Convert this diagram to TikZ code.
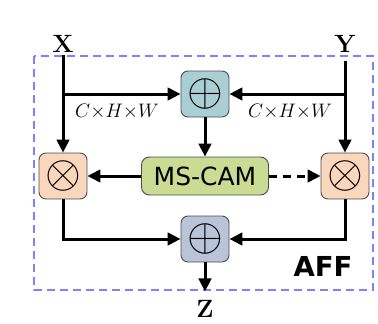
\documentclass[tikz,border=0pt]{standalone}
\usepackage{fontspec}
\newfontfamily\affsans{DejaVu Sans}
\usetikzlibrary{arrows.meta,positioning}
\definecolor{affDash}{HTML}{8080FF}
\definecolor{affTeal}{HTML}{A9CFD5}
\definecolor{affSlate}{HTML}{B9C4D8}
\definecolor{affPeach}{HTML}{FAD7BC}
\definecolor{affGreen}{HTML}{CADB93}

\begin{document}
\begin{tikzpicture}[x=1pt, y=-1pt,
    opbox/.style={draw=black!70, line width=0.9pt, rounded corners=7pt,
        minimum width=48pt, minimum height=46pt, inner sep=0pt},
    io/.style={font=\bfseries\fontsize{25}{25}\selectfont, inner sep=0pt},
    flow/.style={line width=3pt, -{Triangle[length=13pt,width=12.5pt]}},
    dimlabel/.style={font=\fontsize{17}{17}\selectfont}]
    \useasboundingbox (0,0) rectangle (378,324);
    \draw[affDash, line width=1.3pt, dash pattern=on 8pt off 5pt] (34,56) rectangle (373,290);

    \node[io] (X) at (63,44) {X};
    \node[io] (Y) at (345,44) {Y};
    \node[opbox, fill=affTeal] (addtop) at (205,94) {\scalebox{4.6}{$\oplus$}};
    \node[opbox, fill=affPeach] (mulL) at (63,176) {\scalebox{4.6}{$\otimes$}};
    \node[opbox, fill=affPeach] (mulR) at (345,176) {\scalebox{4.6}{$\otimes$}};
    \node[draw=black!70, line width=0.9pt, rounded corners=8pt, fill=affGreen,
        minimum width=127pt, minimum height=38pt, inner sep=0pt,
        font=\affsans\fontsize{25}{25}\selectfont] (mscam) at (205,176) {MS-CAM};
    \node[opbox, fill=affSlate] (addbot) at (205,239) {\scalebox{4.6}{$\oplus$}};
    \node[io, outer sep=9pt] (Z) at (205,309) {Z};
    \node[font=\affsans\bfseries\fontsize{27.5}{27.5}\selectfont] (aff) at (323,266) {AFF};
    \node[dimlabel] (dimL) at (117,112) {\scalebox{1.13}{$C{\times}H{\times}W$}};
    \node[dimlabel] (dimR) at (290,112) {\scalebox{1.13}{$C{\times}H{\times}W$}};

    \draw[flow] (X.south) ++(0,2) -- (mulL.north);
    \draw[flow] (Y.south) ++(0,8) -- (mulR.north);
    \draw[flow] (X |- addtop) -- (addtop.west);
    \draw[flow] (Y |- addtop) -- (addtop.east);
    \draw[flow] (addtop.south) -- (mscam.north);
    \draw[flow] (mscam.west) -- (mulL.east);
    \draw[flow, dash pattern=on 8pt off 6pt] (mscam.east) -- (mulR.west);
    \draw[flow] (mulL.south) |- (addbot.west);
    \draw[flow] (mulR.south) |- (addbot.east);
    \draw[flow] (addbot.south) -- (Z.north);
\end{tikzpicture}
\end{document}
